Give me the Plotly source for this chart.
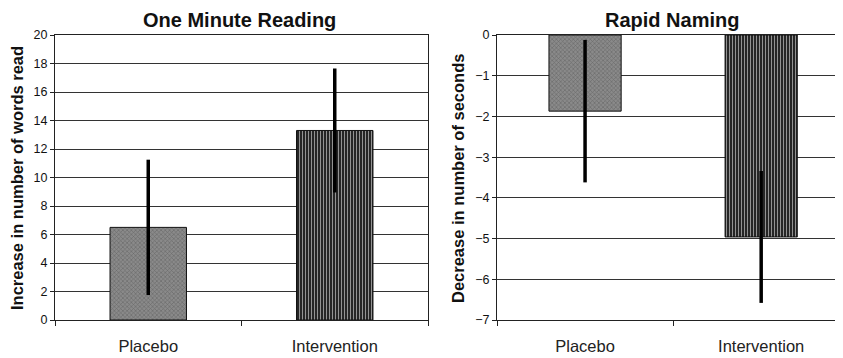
import plotly.graph_objects as go

categories = ["Placebo", "Intervention"]
reading_means = [6.5, 13.3]
reading_err = [4.75, 4.35]
naming_means = [-1.87, -4.96]
naming_err = [1.75, 1.62]
reading_ticks = [0, 2, 4, 6, 8, 10, 12, 14, 16, 18, 20]
naming_ticks = [0, -1, -2, -3, -4, -5, -6, -7]

W, H = 843, 358
OFF = 8  # page body margin
FONT = "Arial, Liberation Sans, sans-serif"

def px(x):
    return (x - OFF) / W

def py(y):
    return 1 - (y - OFF) / H

bar_colors = ["#8a8a8a", "#262626"]
bar_shapes = ["x", "|"]
bar_fg = ["#3a3a3a", "#555555"]

def bar_trace(vals, errs, xa, ya):
    return go.Bar(
        x=categories, y=vals, xaxis=xa, yaxis=ya, width=0.41,
        marker=dict(color=bar_colors, line=dict(color="#111", width=1),
                    pattern=dict(shape=bar_shapes, fgcolor=bar_fg, size=3, solidity=0.35)),
        error_y=dict(type="data", array=errs, visible=True, color="black",
                     thickness=3.5, width=0),
        showlegend=False)

fig = go.Figure()
fig.add_trace(bar_trace(reading_means, reading_err, "x", "y"))
fig.add_trace(bar_trace(naming_means, naming_err, "x2", "y2"))

line_common = dict(showline=True, linecolor="#222", linewidth=1.2,
                   ticks="outside", tickcolor="#222", automargin=False)
ytick_font = dict(family=FONT, size=12.5, color="#111")
xtick_font = dict(family=FONT, size=16.5, color="#222")

ydom = [py(320), py(35)]
fig.update_layout(
    width=W, height=H,
    margin=dict(l=0, r=0, t=0, b=0, pad=0, autoexpand=False),
    paper_bgcolor="white", plot_bgcolor="white",
    xaxis=dict(domain=[px(55), px(428)], range=[-0.5, 1.5], mirror=True,
               tickson="boundaries", ticklen=5, tickfont=xtick_font, ticklabelstandoff=11,
               anchor="y", **line_common),
    yaxis=dict(domain=ydom, range=[0, 20], tickvals=reading_ticks, mirror=True,
               showgrid=True, gridcolor="#333", gridwidth=1, zeroline=False,
               ticklen=4, tickfont=ytick_font, anchor="x", **line_common),
    xaxis2=dict(domain=[px(497), 1.0], range=[-0.5, 1.51], mirror=True,
                tickson="boundaries", ticklen=5, tickfont=xtick_font, ticklabelstandoff=11,
                anchor="y2", **line_common),
    yaxis2=dict(domain=ydom, range=[-7, 0], tickvals=naming_ticks,
                showgrid=True, gridcolor="#333", gridwidth=1, zeroline=False,
                ticklen=4, tickfont=ytick_font, anchor="x2", **line_common),
    annotations=[
        dict(text="<b>One Minute Reading</b>", x=px(239), y=1.0, xref="paper", yref="paper",
             xanchor="center", yanchor="top", borderpad=0,
             showarrow=False, font=dict(family=FONT, size=20, color="#111")),
        dict(text="<b>Rapid Naming</b>", x=px(672), y=1.0, xref="paper", yref="paper",
             xanchor="center", yanchor="top", borderpad=0,
             showarrow=False, font=dict(family=FONT, size=20, color="#111")),
        dict(text="<b>Increase in number of words read</b>", x=px(17), y=py(178),
             xref="paper", yref="paper", showarrow=False, textangle=-90,
             xanchor="center", yanchor="middle",
             font=dict(family=FONT, size=16.5, color="#111")),
        dict(text="<b>Decrease in number of seconds</b>", x=px(458), y=py(178),
             xref="paper", yref="paper", showarrow=False, textangle=-90,
             xanchor="center", yanchor="middle",
             font=dict(family=FONT, size=16.5, color="#111")),
    ],
)

fig.write_html("out.html")
